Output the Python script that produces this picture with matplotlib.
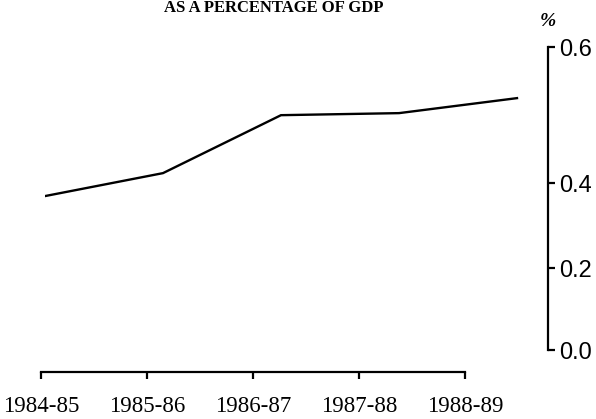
import numpy as np
import matplotlib.pyplot as plt

years = ['1984-85', '1985-86', '1986-87', '1987-88', '1988-89']
share = [0.37, 0.415, 0.50, 0.503, 0.525]
y_ticks = [0.0, 0.2, 0.4, 0.6]
# the printed y axis is unevenly spaced; where each tick sits (0 = bottom, 1 = top)
tick_spacing = [0.0, 0.27, 0.55, 1.0]


def fwd(v):
    return np.interp(v, y_ticks, tick_spacing)


def inv(p):
    return np.interp(p, tick_spacing, y_ticks)


W, H = 596, 419
fig = plt.figure(figsize=(W / 100, H / 100), dpi=100)

# line panel, right spine carries the value axis
ax = fig.add_axes([45 / W, (H - 350) / H, (548 - 45) / W, (350 - 47) / H])
ax.plot(range(len(years)), share, color='k', lw=1.7, solid_joinstyle='miter')
ax.set_xlim(0, 4 * (548 - 45) / (517 - 45))
ax.set_yscale('function', functions=(fwd, inv))
ax.set_ylim(0, 0.6)
for s in ['left', 'top', 'bottom']:
    ax.spines[s].set_visible(False)
ax.spines['right'].set_linewidth(1.6)
ax.set_xticks([])
ax.yaxis.tick_right()
ax.set_yticks(y_ticks)
ax.set_yticklabels([f'{t:.1f}' for t in y_ticks], family='Liberation Sans')
ax.tick_params(axis='y', direction='out', length=5, width=1.6, pad=3, labelsize=17)
ax.yaxis.set_minor_locator(plt.NullLocator())
ax.patch.set_visible(False)

# separate year axis underneath
axb = fig.add_axes([41 / W, (H - 372) / H, (465 - 41) / W, 1e-4])
axb.set_xlim(0, len(years) - 1)
axb.set_xticks(range(len(years)))
axb.set_xticklabels(years, family='Liberation Serif')
axb.set_yticks([])
for s in ['left', 'top', 'right']:
    axb.spines[s].set_visible(False)
axb.spines['bottom'].set_linewidth(1.6)
axb.tick_params(axis='x', direction='out', length=5, width=1.6, pad=12, labelsize=16.5)
axb.patch.set_visible(False)

fig.text(274 / W, 1 - 12 / H, 'AS A PERCENTAGE OF GDP', ha='center', va='baseline',
         family='Liberation Serif', weight='bold', size=12)
fig.text(548 / W, 1 - 22 / H, '%', ha='center', va='center', family='Liberation Serif',
         weight='bold', style='italic', size=14)

fig.savefig('out.png', dpi=100)
